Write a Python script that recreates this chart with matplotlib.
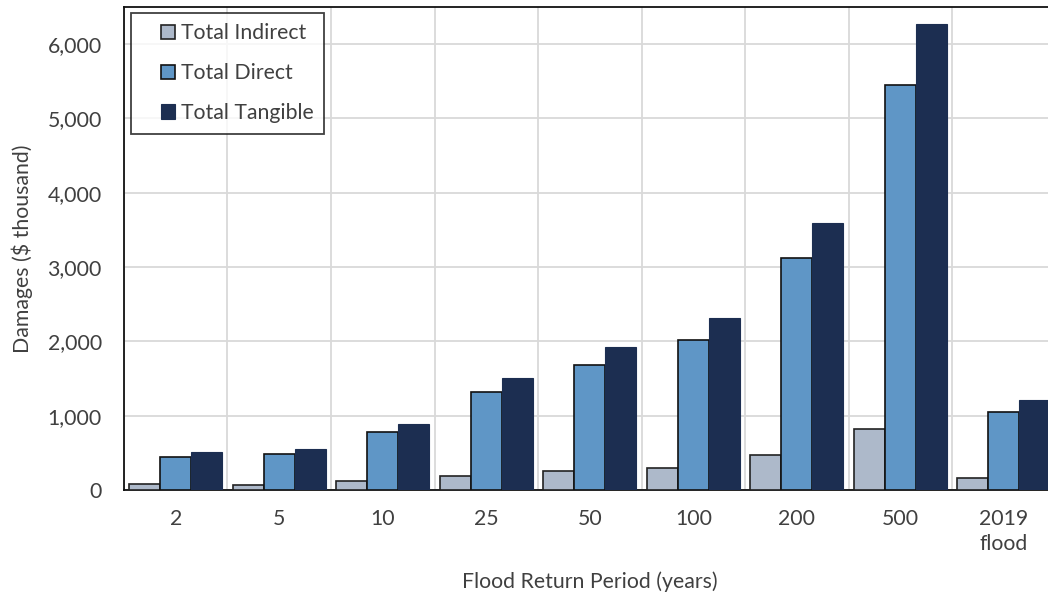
import numpy as np
import matplotlib
matplotlib.use("Agg")
import matplotlib.pyplot as plt
from matplotlib.patches import Rectangle
from matplotlib.legend_handler import HandlerPatch
from matplotlib.ticker import FuncFormatter, MultipleLocator

plt.rcParams["font.family"] = ["Lato", "DejaVu Sans"]

periods = ["2", "5", "10", "25", "50", "100", "200", "500", "2019\nflood"]
indirect = [77, 72, 126, 193, 252, 301, 468, 818, 158]
direct = [449, 485, 782, 1317, 1685, 2017, 3123, 5449, 1055]
tangible = [516, 557, 894, 1513, 1927, 2318, 3590, 6267, 1213]

FS = 15.3
TXT = "#404040"


def square_key(legend, orig_handle, xdescent, ydescent, width, height, fontsize):
    # small square sitting at the right end of the handle box
    s = 0.66 * fontsize
    return Rectangle((-xdescent + width - s, -ydescent + (height - s) / 2), s, s)


fig = plt.figure(figsize=(10.48, 5.98), dpi=100)
ax = fig.add_axes([0.1183, 0.1806, 0.889, 0.8077])

x = np.arange(len(periods))
w = 0.3
b1 = ax.bar(x - w, indirect, w, color="#ADB9CA", edgecolor="#222222",
            linewidth=1.2, zorder=3)
b2 = ax.bar(x, direct, w, color="#5F96C6", edgecolor="#111111",
            linewidth=1.2, zorder=3)
b3 = ax.bar(x + w, tangible, w, color="#1C2E51", edgecolor="#1C2E51",
            linewidth=0.8, zorder=3)

ax.set_xlim(-0.5, len(periods) - 0.5)
ax.set_ylim(0, 6500)
ax.yaxis.set_major_locator(MultipleLocator(1000))
ax.yaxis.set_major_formatter(FuncFormatter(lambda v, p: f"{int(v):,}"))
ax.set_xticks(x)
ax.set_xticklabels(periods, linespacing=1.3)
ax.xaxis.set_minor_locator(MultipleLocator(1, offset=0.5))

ax.grid(axis="y", which="major", color="#D9D9D9", linewidth=1.3, zorder=0)
ax.grid(axis="x", which="minor", color="#D9D9D9", linewidth=1.3, zorder=0)
ax.tick_params(axis="both", which="both", length=0, labelsize=FS,
               labelcolor=TXT)
ax.tick_params(axis="x", pad=14)
ax.tick_params(axis="y", pad=16)

for s in ax.spines.values():
    s.set_color("#111111")
    s.set_linewidth(1.3)

ax.set_xlabel("Flood Return Period (years)", fontsize=FS, color=TXT,
              labelpad=12)
ax.set_ylabel("Damages ($ thousand)", fontsize=FS, color=TXT, labelpad=10)

leg = ax.legend([b1[0], b2[0], b3[0]],
                ["Total Indirect", "Total Direct", "Total Tangible"],
                loc="upper left", bbox_to_anchor=(0.0075, 0.988), fontsize=FS,
                frameon=True, fancybox=False, edgecolor="#111111",
                handlelength=1.55, handleheight=0.7, handletextpad=0.3,
                labelspacing=0.93, borderpad=0.5, borderaxespad=0,
                handler_map={Rectangle: HandlerPatch(patch_func=square_key)})
leg.get_frame().set_linewidth(1.3)
for t in leg.get_texts():
    t.set_color(TXT)

fig.savefig("out.png", dpi=100)
